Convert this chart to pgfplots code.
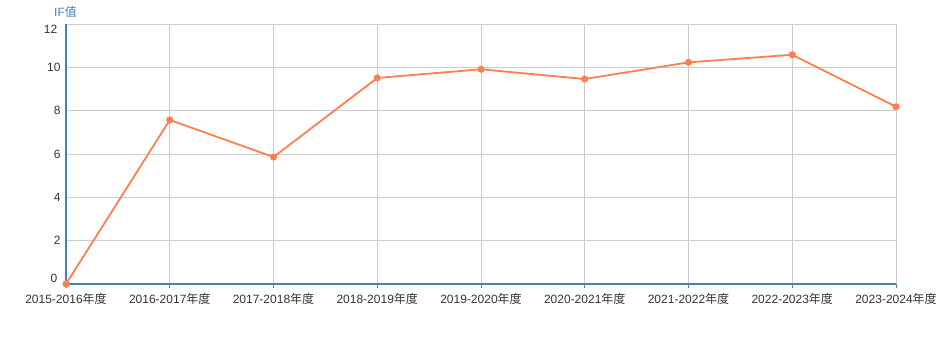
\documentclass[border=0pt]{standalone}
\usepackage{fontspec}
\setmainfont{Liberation Sans}
\newfontfamily\cjk{Noto Sans CJK SC}
\usepackage{pgfplots}
\pgfplotsset{compat=1.18}
\definecolor{axisblue}{RGB}{70,130,180}
\definecolor{linecoral}{RGB}{255,127,80}
\definecolor{gridgray}{RGB}{204,204,204}
\definecolor{ticktext}{RGB}{51,51,51}
\begin{document}
\begin{tikzpicture}[x=1bp,y=1bp]
\path[use as bounding box] (0,0) rectangle (944,339);
\begin{axis}[
  at={(66bp,55bp)}, anchor=south west,
  scale only axis, width=830bp, height=260bp,
  xmin=0, xmax=8, ymin=0, ymax=12,
  xtick={0,...,8},
  xticklabels={2015-2016{\cjk 年度},2016-2017{\cjk 年度},2017-2018{\cjk 年度},2018-2019{\cjk 年度},2019-2020{\cjk 年度},2020-2021{\cjk 年度},2021-2022{\cjk 年度},2022-2023{\cjk 年度},2023-2024{\cjk 年度}},
  ytick={0,2,...,12},
  yticklabels={{},2,4,6,8,10,{}},
  axis x line*=bottom, axis y line*=left,
  axis line style={-, axisblue, line width=2bp},
  x axis line style={line width=1.5bp},
  grid=major, grid style={gridgray, line width=0.8bp},
  x tick style={axisblue, line width=1bp},
  xtick align=outside, major tick length=4bp,
  y tick style={draw=none},
  tick label style={font=\fontsize{12bp}{14bp}\selectfont, text=ticktext},
  xticklabel style={yshift=-1.5bp},
  yticklabel style={xshift=-2bp},
  clip=false,
]
\addplot[linecoral, line width=1.8bp, mark=*, mark size=2.6bp, mark options={fill=linecoral, draw=linecoral}]
coordinates {(0,0) (1,7.57) (2,5.86) (3,9.51) (4,9.91) (5,9.46) (6,10.23) (7,10.58) (8,8.18)};
\node[anchor=east, text=ticktext, font=\fontsize{12bp}{14bp}\selectfont, xshift=-5.3bp, yshift=-5bp] at (axis cs:0,12) {12};
\node[anchor=east, text=ticktext, font=\fontsize{12bp}{14bp}\selectfont, xshift=-5.3bp, yshift=6bp] at (axis cs:0,0) {0};
\end{axis}
\node[anchor=west, text=axisblue, font=\fontsize{12bp}{14bp}\selectfont, inner sep=0] at (54,327) {IF{\cjk 值}};
\end{tikzpicture}
\end{document}
